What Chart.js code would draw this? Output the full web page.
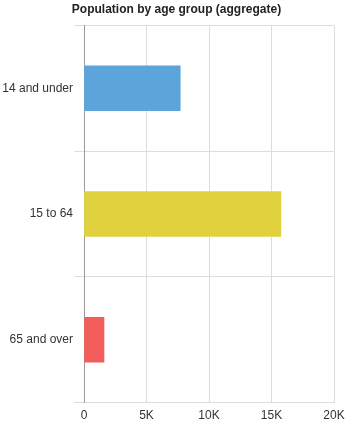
<!DOCTYPE html>
<html>
<head>
<meta charset="utf-8">
<script src="https://cdn.jsdelivr.net/npm/chart.js@4"></script>
<style>
  html, body { margin: 0; padding: 0; background: #fff; }
  #wrap { width: 353px; height: 431px; }
</style>
</head>
<body>
<div id="wrap"><canvas id="ageChart"></canvas></div>
<script>
const categories = ["14 and under", "15 to 64", "65 and over"];
const population = [7700, 15750, 1600];
const barColors = ["#5ca5db", "#e0d23e", "#f25c5a"];
const xTicks = [0, 5000, 10000, 15000, 20000];

Chart.defaults.font.family = "'Liberation Sans', Arial, sans-serif";
Chart.defaults.font.size = 12;
Chart.defaults.color = "#333";

const ctx = document.getElementById("ageChart").getContext("2d");
new Chart(ctx, {
  type: "bar",
  data: {
    labels: categories,
    datasets: [
      {
        data: population,
        backgroundColor: barColors,
        borderWidth: 0,
        barThickness: 45,
      },
    ],
  },
  options: {
    indexAxis: "y",
    responsive: true,
    maintainAspectRatio: false,
    animation: false,
    layout: { padding: { left: 0, right: 0, top: 0, bottom: 2 } },
    plugins: {
      legend: { display: false },
      tooltip: { enabled: false },
      title: {
        display: true,
        text: "Population by age group (aggregate)",
        color: "#222",
        font: { size: 12, weight: "bold" },
        padding: { top: 2, bottom: 9 },
      },
    },
    scales: {
      x: {
        min: 0,
        max: 20000,
        afterBuildTicks: (axis) => {
          axis.ticks = xTicks.map((v) => ({ value: v }));
        },
        afterFit: (axis) => {
          axis.paddingRight = 19;
        },
        ticks: {
          padding: 6,
          callback: (v) => (v === 0 ? "0" : v / 1000 + "K"),
        },
        grid: { color: "#dddddd", drawTicks: false },
        border: { display: false },
      },
      y: {
        offset: true,
        afterFit: (axis) => {
          axis.width = 84;
        },
        ticks: { padding: 1 },
        grid: { offset: true, color: "#dddddd", tickLength: 10 },
        border: { color: "#999999" },
      },
    },
  },
});
</script>
</body>
</html>
